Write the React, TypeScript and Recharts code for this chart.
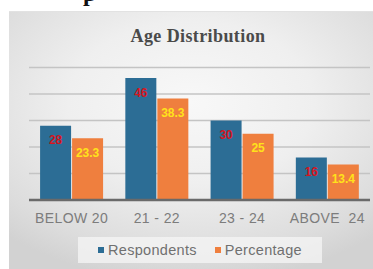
import React from 'react';
import { BarChart, Bar, XAxis, YAxis, CartesianGrid, Legend, LabelList } from 'recharts';

const categories = ['BELOW 20', '21 - 22', '23 - 24', 'ABOVE\u00a0 24'];
const respondents = [28, 46, 30, 16];
const percentage = [23.3, 38.3, 25, 13.4];
const yTicks = [0, 10, 20, 30, 40, 50];

const data = categories.map((c, i) => ({ name: c, Respondents: respondents[i], Percentage: percentage[i] }));

const BLUE = '#2C6D95';
const ORANGE = '#EF7F3E';

const LegendContent = () => (
  <div style={{
    width: 244, height: 26, background: 'rgba(245,245,245,0.75)', display: 'flex',
    alignItems: 'center', justifyContent: 'center', fontFamily: 'Liberation Sans, Arial, sans-serif',
    fontSize: 14.5, color: '#707070', letterSpacing: 0.3,
  }}>
    <span style={{ display: 'inline-block', width: 6, height: 6, background: BLUE, marginRight: 4 }} />
    <span style={{ marginRight: 18 }}>Respondents</span>
    <span style={{ display: 'inline-block', width: 6, height: 6, background: ORANGE, marginRight: 4 }} />
    <span>Percentage</span>
  </div>
);

export default function App() {
  return (
    <div style={{ position: 'absolute', left: 0, top: 0, width: 373, height: 269, background: '#fff', overflow: 'hidden' }}>
      <svg style={{ position: 'absolute', left: 0, top: 0 }} width={373} height={12}>
        <text x={83} y={1} fontFamily="Liberation Serif, serif" fontWeight="bold" fontSize={24} fill="#111">p</text>
      </svg>
      <div style={{
        position: 'absolute', left: 9, top: 11, width: 364, height: 258,
        background: 'radial-gradient(ellipse 75% 70% at 50% 35%, #f8f8f8 0%, #efefef 45%, #dcdcdc 85%, #d2d2d2 100%)',
        borderTop: '1px solid #e2e2e2',
      }} />
      <div style={{
        position: 'absolute', left: 9, top: 26, width: 364, textAlign: 'center',
        fontFamily: 'Liberation Serif, serif', fontWeight: 'bold', fontSize: 18, color: '#4a4a4a',
        letterSpacing: 0.4, paddingLeft: 14, boxSizing: 'border-box',
      }}>Age Distribution</div>
      <div style={{ position: 'absolute', left: 0, top: 0 }}>
        <BarChart width={373} height={269} data={data} margin={{ top: 67.5, right: 3, left: 29, bottom: 0 }}
          barCategoryGap="13%" barGap={1}>
          <CartesianGrid vertical={false} stroke="#c4c4c4" strokeWidth={1.3} />
          <YAxis hide domain={[0, 50]} ticks={yTicks} />
          <XAxis dataKey="name" height={69} axisLine={{ stroke: '#6a6a6a', strokeWidth: 2.5 }} tickLine={false}
            tickSize={6} tickMargin={7} interval={0}
            tick={{ fontFamily: 'Liberation Sans, Arial, sans-serif', fontSize: 14, fill: '#7c7c7c', letterSpacing: 0.4 }} />
          <Legend verticalAlign="middle" align="center" layout="horizontal" content={<LegendContent />}
            wrapperStyle={{ top: 237, left: 78, width: 244, height: 26 }} />
          <Bar dataKey="Respondents" fill={BLUE} isAnimationActive={false}>
            <LabelList dataKey="Respondents" position="insideTop" offset={10} fill="#D4161F"
              style={{ fontFamily: 'Liberation Sans, Arial, sans-serif', fontSize: 12, fontWeight: 'bold' }} />
          </Bar>
          <Bar dataKey="Percentage" fill={ORANGE} isAnimationActive={false}>
            <LabelList dataKey="Percentage" position="insideTop" offset={10} fill="#FFE21A"
              style={{ fontFamily: 'Liberation Sans, Arial, sans-serif', fontSize: 12, fontWeight: 'bold' }} />
          </Bar>
        </BarChart>
      </div>
    </div>
  );
}
